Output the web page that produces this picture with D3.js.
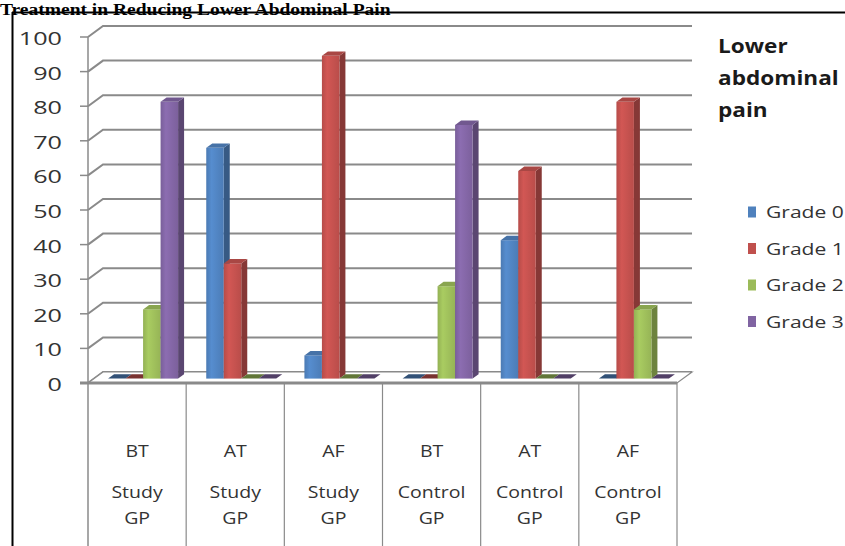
<!DOCTYPE html>
<html>
<head>
<meta charset="utf-8">
<script src="https://cdn.jsdelivr.net/npm/d3@7/dist/d3.min.js"></script>
<style>
  html, body { margin: 0; padding: 0; background: #fff; overflow: hidden; }
  svg { display: block; }
</style>
</head>
<body>
<svg id="chart" width="845" height="546"></svg>
<script>
// ---- data ----
const categories = [
  ["BT", "Study", "GP"],
  ["AT", "Study", "GP"],
  ["AF", "Study", "GP"],
  ["BT", "Control", "GP"],
  ["AT", "Control", "GP"],
  ["AF", "Control", "GP"]
];
const seriesNames = ["Grade 0", "Grade 1", "Grade 2", "Grade 3"];
const grade0 = [0, 66.7, 6.7, 0, 40, 0];
const grade1 = [0, 33.3, 93.3, 0, 60, 80];
const grade2 = [20, 0, 0, 26.7, 0, 20];
const grade3 = [80, 0, 0, 73.3, 0, 0];
const seriesValues = [grade0, grade1, grade2, grade3];
const yTicks = [0, 10, 20, 30, 40, 50, 60, 70, 80, 90, 100];
const titleText = "Treatment in Reducing Lower Abdominal Pain";
const legendTitle = ["Lower", "abdominal", "pain"];
const colors = ["#4F81BD", "#C0504D", "#9BBB59", "#8064A2"];

// ---- layout ----
const svg = d3.select("#chart");
const W = 845, H = 546;
const depthX = 15, depthY = -11;          // floor / wall depth offset

const x = d3.scaleBand().domain(d3.range(categories.length)).range([88, 677]).padding(0);
const y = d3.scaleLinear().domain([0, 100]).range([383, 37]);
const inner = d3.scaleBand().domain(d3.range(seriesNames.length)).range([-35, 35]).padding(0);

// projection into the depth of the plot
const px = (xv, t) => xv + depthX * t;
const py = (yv, t) => yv + depthY * t;

// frame
svg.append("line").attr("x1", 12).attr("x2", W).attr("y1", 12.5).attr("y2", 12.5)
  .attr("stroke", "#000").attr("stroke-width", 2);
svg.append("line").attr("x1", 12.5).attr("x2", 12.5).attr("y1", 12).attr("y2", H)
  .attr("stroke", "#000").attr("stroke-width", 2);

// title, resting on the frame's top rule
svg.append("text")
  .attr("transform", "translate(0,14.5) scale(1.22,1)")
  .attr("font-family", "'Liberation Serif', 'Times New Roman', serif")
  .attr("font-weight", "bold").attr("font-size", 16)
  .attr("fill", "#000")
  .text(titleText);

// gridlines along back wall with slanted side-wall segment
const grid = svg.append("g").attr("class", "grid");
yTicks.forEach(t => {
  const yf = y(t);
  grid.append("path")
    .attr("d", `M${x.range()[0]},${yf} L${px(x.range()[0], 1)},${py(yf, 1)} L${px(x.range()[1], 1)},${py(yf, 1)}`)
    .attr("fill", "none").attr("stroke", "#8a8a8a").attr("stroke-width", 2);
});

// floor slab
const x0 = x.range()[0], x1 = x.range()[1];
svg.append("path")
  .attr("d", `M${x0},${y(0)} L${px(x0, 1)},${py(y(0), 1)} L${px(x1, 1)},${py(y(0), 1)} L${x1},${y(0)} Z`)
  .attr("fill", "#fff").attr("stroke", "#8a8a8a").attr("stroke-width", 1.2);

// vertical axis & ticks
svg.append("line").attr("x1", x0).attr("x2", x0).attr("y1", y(100)).attr("y2", H)
  .attr("stroke", "#8a8a8a").attr("stroke-width", 1.5);
yTicks.forEach(t => {
  svg.append("line").attr("x1", x0 - 8).attr("x2", x0).attr("y1", y(t)).attr("y2", y(t))
    .attr("stroke", "#8a8a8a").attr("stroke-width", 1.5);
  svg.append("text")
    .attr("transform", `translate(62,${y(t) + 8}) scale(1.4,1)`)
    .attr("text-anchor", "end")
    .attr("font-family", "'Open Sans', sans-serif").attr("font-size", 18)
    .attr("fill", "#333")
    .text(t);
});

// front floor edge (heavier)
svg.append("line").attr("x1", x0 - 8).attr("x2", x1).attr("y1", y(0)).attr("y2", y(0))
  .attr("stroke", "#8a8a8a").attr("stroke-width", 3);

// category cells
categories.forEach((c, i) => {
  const xr = x(i) + x.bandwidth();
  svg.append("line").attr("x1", xr).attr("x2", xr).attr("y1", y(0)).attr("y2", H)
    .attr("stroke", "#8a8a8a").attr("stroke-width", 1.2);
  const cx = x(i) + x.bandwidth() / 2;
  [[c[0], 457], [c[1], 498], [c[2], 524]].forEach(([txt, yy]) => {
    svg.append("text")
      .attr("transform", `translate(${cx},${yy}) scale(1.22,1)`)
      .attr("text-anchor", "middle")
      .attr("font-family", "'Open Sans', sans-serif").attr("font-size", 16)
      .attr("fill", "#333")
      .text(txt);
  });
});

// gradients for bar fronts
const defs = svg.append("defs");
colors.forEach((col, s) => {
  const g = defs.append("linearGradient").attr("id", "front" + s)
    .attr("x1", "0%").attr("x2", "100%").attr("y1", "0%").attr("y2", "0%");
  const c = d3.color(col);
  g.append("stop").attr("offset", "0%").attr("stop-color", c.darker(0.15));
  g.append("stop").attr("offset", "30%").attr("stop-color", c.brighter(0.25));
  g.append("stop").attr("offset", "100%").attr("stop-color", c.darker(0.1));
});

// 3-D bars
const tF = 0.4, tB = 0.8;
const bars = svg.append("g").attr("class", "bars");
seriesValues.forEach((vals, s) => {
  vals.forEach((v, i) => {
    const cx = x(i) + x.bandwidth() / 2;
    const bx = px(cx + inner(s), tF);
    const bw = inner.bandwidth();
    const base = py(y(0), tF);
    const top = py(y(v), tF);
    const ddx = depthX * (tB - tF), ddy = depthY * (tB - tF);
    const c = d3.color(colors[s]);
    const g = bars.append("g");
    // side face
    g.append("path")
      .attr("d", `M${bx + bw},${top} L${bx + bw + ddx},${top + ddy} L${bx + bw + ddx},${base + ddy} L${bx + bw},${base} Z`)
      .attr("fill", c.darker(1.0));
    // front face
    if (v > 0) {
      g.append("rect").attr("x", bx).attr("y", top).attr("width", bw).attr("height", base - top)
        .attr("fill", `url(#front${s})`);
    }
    // top face
    g.append("path")
      .attr("d", `M${bx},${top} L${bx + ddx},${top + ddy} L${bx + bw + ddx},${top + ddy} L${bx + bw},${top} Z`)
      .attr("fill", v > 0 ? c.darker(0.35) : c.darker(1.3));
  });
});

// legend
legendTitle.forEach((line, k) => {
  svg.append("text")
    .attr("transform", `translate(718,${53 + k * 32}) scale(1.13,1)`)
    .attr("font-family", "'Open Sans', sans-serif").attr("font-weight", "bold").attr("font-size", 20)
    .attr("fill", "#1a1a1a")
    .text(line);
});
seriesNames.forEach((name, s) => {
  const cy = 212 + s * 36.5;
  svg.append("rect").attr("x", 748).attr("y", cy - 5.5).attr("width", 8).attr("height", 11)
    .attr("fill", colors[s]);
  svg.append("text")
    .attr("transform", `translate(766,${cy + 6}) scale(1.24,1)`)
    .attr("font-family", "'Open Sans', sans-serif").attr("font-size", 17)
    .attr("fill", "#333")
    .text(name);
});
</script>
</body>
</html>
